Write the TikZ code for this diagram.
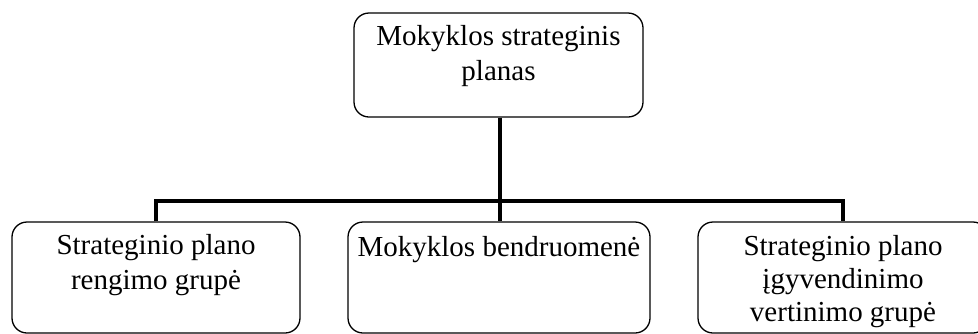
\documentclass[tikz,border=0pt]{standalone}
\usepackage{fontspec}
\setmainfont{Liberation Serif}
\begin{document}
\begin{tikzpicture}[x=1pt,y=1pt,
  box/.style={draw=black,line width=1.3pt,rounded corners=15pt,rectangle,inner sep=0pt},
  lbl/.style={align=center,anchor=north,inner sep=0pt,font=\fontsize{29}{35}\selectfont},
  conn/.style={line width=4.2pt}]
\path[use as bounding box,clip] (0,0) rectangle (978,-333);
% boxes
\node[box,minimum width=289pt,minimum height=104pt] (top) at (498.5,-65) {};
\node[box,minimum width=288pt,minimum height=111pt] (left) at (156,-277.5) {};
\node[box,minimum width=302pt,minimum height=111pt] (mid) at (499,-277.5) {};
\node[box,minimum width=290pt,minimum height=111pt] (right) at (843,-277.5) {};
% connectors
\coordinate (bus) at (500,-201);
\draw[conn] (top.south -| bus) -- (bus);
\draw[conn] (left.north) |- (bus) -| (right.north);
\draw[conn] (bus) -- (mid.north -| bus);
% labels (first baseline about 34pt below the box top; strut height 24.5pt)
\node[lbl] (tlbl) at ([yshift=-8.5pt]top.north) {\strut Mokyklos strateginis\\planas};
\node[lbl] (llbl) at ([yshift=-8.5pt]left.north) {\strut Strateginio plano\\rengimo grupė};
\node[lbl] (mlbl) at ([yshift=-10pt]mid.north) {\strut Mokyklos bendruomenė};
\node[lbl] (rlbl) at ([yshift=-9.5pt]right.north) {\strut Strateginio plano\\[-2pt]įgyvendinimo\\[-2pt]vertinimo grupė};
\end{tikzpicture}
\end{document}
